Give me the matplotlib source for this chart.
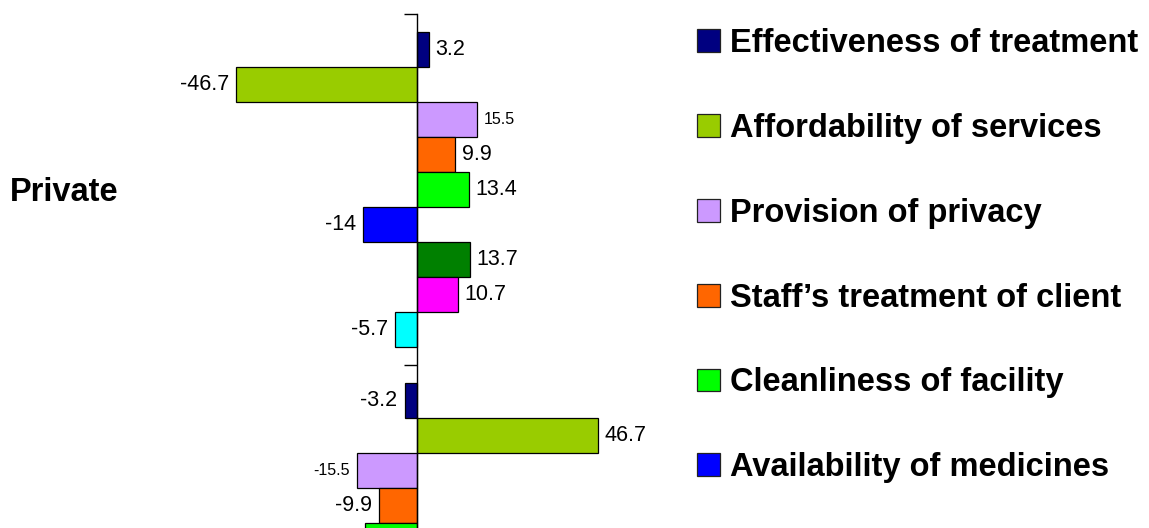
import matplotlib
matplotlib.use("Agg")
import matplotlib.pyplot as plt
import matplotlib.transforms as mtransforms
from matplotlib.patches import Patch
import numpy as np

plt.rcParams['font.family'] = ['Liberation Sans', 'DejaVu Sans']

groups = ['Private', 'Public']
series = ['Effectiveness of treatment', 'Affordability of services',
          'Provision of privacy', "Staff\u2019s treatment of client",
          'Cleanliness of facility', 'Availability of medicines']
colors = ['#000080', '#99CC00', '#CC99FF', '#FF6600', '#00FF00',
          '#0000FF', '#008000', '#FF00FF', '#00FFFF']
private = [3.2, -46.7, 15.5, 9.9, 13.4, -14, 13.7, 10.7, -5.7]
public = [-3.2, 46.7, -15.5, -9.9, -13.4, 14, -13.7, -10.7, 5.7]
small_labels = [2]  # the privacy labels are set in a smaller type


def main():
    fig = plt.figure(figsize=(11.49, 5.28), dpi=100)
    # axes runs past the bottom edge, the second group is cut off like in the source
    ax = fig.add_axes([0.1603, 1 - 14 / 528 - 702 / 528, 0.4052, 702 / 528])

    h = 0.1
    data = [private, public]
    for g, vals in enumerate(data):
        for j, v in enumerate(vals):
            y = g - 0.45 + h * (j + 0.5)
            ax.barh(y, v, height=h, color=colors[j], edgecolor='black', linewidth=0.9)
            fs = 11.5 if j in small_labels else 15.5
            if v >= 0:
                ax.text(v + 1.6, y, f'{v:g}', va='center', ha='left', fontsize=fs)
            else:
                ax.text(v - 1.8, y, f'{v:g}', va='center', ha='right', fontsize=fs)

    ax.set_xlim(-60, 60)
    ax.set_ylim(len(groups) - 0.5, -0.5)
    for s in ['top', 'right', 'bottom']:
        ax.spines[s].set_visible(False)
    ax.spines['left'].set_position(('data', 0))
    ax.spines['left'].set_linewidth(1.0)
    ax.set_xticks([])
    ax.set_yticks(np.arange(len(groups) + 1) - 0.5)
    ax.set_yticklabels([])
    ax.tick_params(axis='y', direction='out', length=9.5, width=1.0)

    trans = mtransforms.blended_transform_factory(fig.transFigure, ax.transData)
    for g, name in enumerate(groups):
        ax.text(10 / 1149, g + 0.008, name, transform=trans, ha='left', va='center',
                fontsize=23.5, fontweight='bold', clip_on=False)

    handles = [Patch(facecolor=colors[i], edgecolor='#222222', linewidth=0.9)
               for i in range(len(series))]
    fig.legend(handles, series, loc='upper left', bbox_to_anchor=(697 / 1149, 1 - 28 / 528),
               frameon=False, prop={'size': 23.5, 'weight': 'bold'},
               handlelength=0.7, handleheight=0.7, handletextpad=0.3,
               labelspacing=1.65, borderpad=0, borderaxespad=0)

    fig.savefig('out.png', dpi=100)


if __name__ == '__main__':
    main()
